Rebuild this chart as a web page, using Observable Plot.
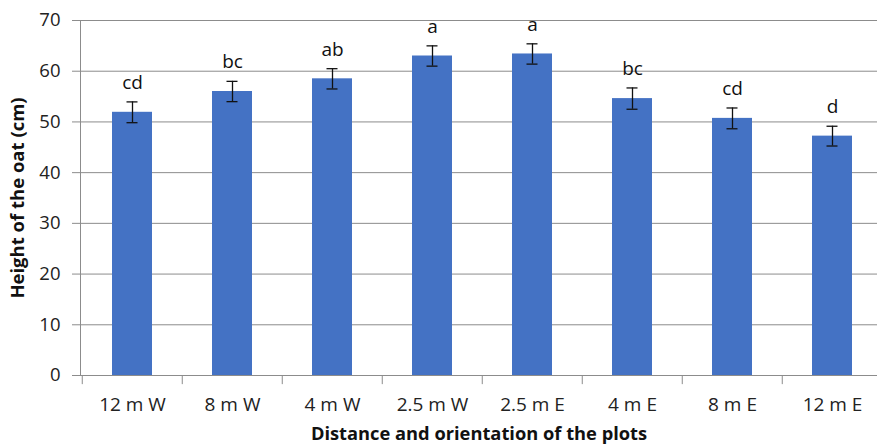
<!DOCTYPE html>
<html>
<head>
<meta charset="utf-8">
<script src="https://cdn.jsdelivr.net/npm/d3@7"></script>
<script src="https://cdn.jsdelivr.net/npm/@observablehq/plot@0.6"></script>
<style>
  body { margin: 0; background: #fff; }
</style>
</head>
<body>
<div id="chart"></div>
<script>
const categories = ["12 m W", "8 m W", "4 m W", "2.5 m W", "2.5 m E", "4 m E", "8 m E", "12 m E"];
const heights = [51.9, 56.0, 58.5, 63.0, 63.4, 54.6, 50.7, 47.2];
const errors = [2.05, 2.0, 2.0, 2.0, 2.0, 2.1, 2.05, 1.95];
const letters = ["cd", "bc", "ab", "a", "a", "bc", "cd", "d"];
const yTicks = [0, 10, 20, 30, 40, 50, 60, 70];

const data = categories.map((c, i) => ({
  cat: c, h: heights[i], lo: heights[i] - errors[i], hi: heights[i] + errors[i], letter: letters[i]
}));

const font = "'Open Sans', 'Noto Sans', sans-serif";
const chart = Plot.plot({
  width: 877,
  height: 446,
  marginTop: 20,
  marginBottom: 71,
  marginLeft: 80,
  marginRight: 0,
  style: { fontFamily: font, fontSize: "18px", color: "#222", background: "#fff" },
  x: { domain: categories, range: [80, 884], padding: 0 },
  y: { domain: [0, 70] },
  marks: [
    Plot.ruleY(yTicks, { stroke: "#8c8c8c", strokeWidth: 1 }),
    Plot.frame({ anchor: "left", stroke: "#8c8c8c" }),
    Plot.axisY({ ticks: yTicks, tickSize: 8, tickPadding: 12, stroke: "#8c8c8c", label: null, fontSize: 18.5, fill: "#222" }),
    Plot.ruleX(categories, { x: d => d, y1: 0, y2: -1.8, dx: -50.25, stroke: "#8c8c8c" }),
    Plot.axisX({ tickSize: 0, tickPadding: 22, label: null, fontSize: 19, fill: "#222" }),
    Plot.barY(data, { x: "cat", y: "h", fill: "#4472C4", insetLeft: 30, insetRight: 30 }),
    Plot.ruleX(data, { x: "cat", y1: "lo", y2: "hi", stroke: "#111", strokeWidth: 1.3 }),
    Plot.tickY(data, { x: "cat", y: "lo", stroke: "#111", strokeWidth: 1.3, insetLeft: 44.5, insetRight: 44.5 }),
    Plot.tickY(data, { x: "cat", y: "hi", stroke: "#111", strokeWidth: 1.3, insetLeft: 44.5, insetRight: 44.5 }),
    Plot.text(data, { x: "cat", y: "hi", text: "letter", dy: -19, fontSize: 19, fill: "#111" }),
    Plot.text(["Distance and orientation of the plots"], { frameAnchor: "bottom", textAnchor: "middle", dy: 64, fontWeight: "bold", fontSize: 18.3, fill: "#111" }),
    Plot.text(["Height of the oat (cm)"], { frameAnchor: "left", textAnchor: "middle", dx: -62, rotate: -90, fontWeight: "bold", fontSize: 18.5, fill: "#111" })
  ]
});
document.getElementById("chart").appendChild(chart);
</script>
</body>
</html>
